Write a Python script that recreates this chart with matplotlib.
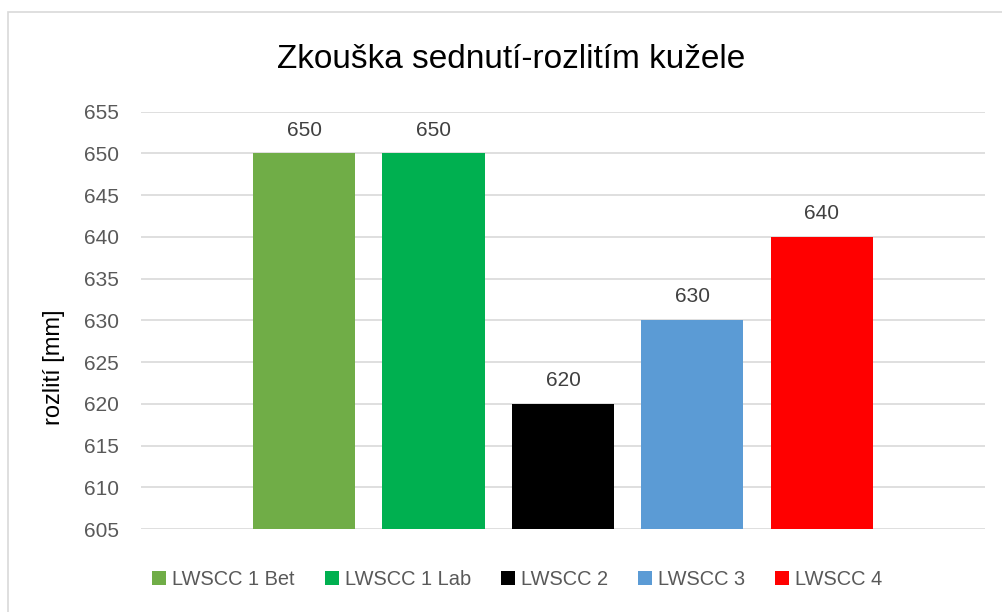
import matplotlib.pyplot as plt
from matplotlib.patches import Rectangle, Patch

# data
names = ['LWSCC 1 Bet', 'LWSCC 1 Lab', 'LWSCC 2', 'LWSCC 3', 'LWSCC 4']
values = [650, 650, 620, 630, 640]
colors = ['#70AD47', '#00B050', '#000000', '#5B9BD5', '#FF0000']
yticks = [605, 610, 615, 620, 625, 630, 635, 640, 645, 650, 655]

plt.rcParams['font.family'] = ['Liberation Sans', 'DejaVu Sans']
txt = '#595959'

fig = plt.figure(figsize=(10.03, 6.12), dpi=100)
ax = fig.add_axes([0.1406, 0.1356, 0.8414, 0.6819])

x = list(range(len(values)))
bars = ax.bar(x, [v - 605 for v in values], bottom=605, width=0.788, color=colors, zorder=3)
for xi, v in zip(x, values):
    ax.annotate(str(v), (xi, v), xytext=(0, 10), textcoords='offset points',
                ha='center', va='bottom', fontsize=15, color='#404040')

ax.set_xlim(-1.259, 5.259)
ax.set_ylim(605, 655)
ax.set_yticks(yticks)
ax.set_yticklabels([str(t) for t in yticks], fontsize=15, color=txt)
ax.set_xticks([])
ax.tick_params(axis='y', length=0, pad=16)
ax.grid(axis='y', color='#D9D9D9', linewidth=1.2, zorder=0)
for s in ax.spines.values():
    s.set_visible(False)
ax.set_ylabel('rozlití [mm]', fontsize=17, color='black')
ax.yaxis.set_label_coords(-0.090, 0.388)

fig.text(0.51, 0.902, 'Zkouška sednutí-rozlitím kužele', ha='center', va='center',
         fontsize=24, color='black')

handles = [Patch(facecolor=c) for c in colors]
fig.legend(handles, names, loc='center', bbox_to_anchor=(0.516, 0.053), ncol=5,
           frameon=False, fontsize=14.4, handlelength=0.7, handleheight=0.7,
           handletextpad=0.3, columnspacing=1.5, labelcolor=txt)

fig.patches.append(Rectangle((8 / 1003, -0.1), 1.2, (612 - 12) / 612 + 0.1,
                             transform=fig.transFigure, fill=False,
                             edgecolor='#D9D9D9', linewidth=1.2))

fig.savefig('out.png', dpi=100)
